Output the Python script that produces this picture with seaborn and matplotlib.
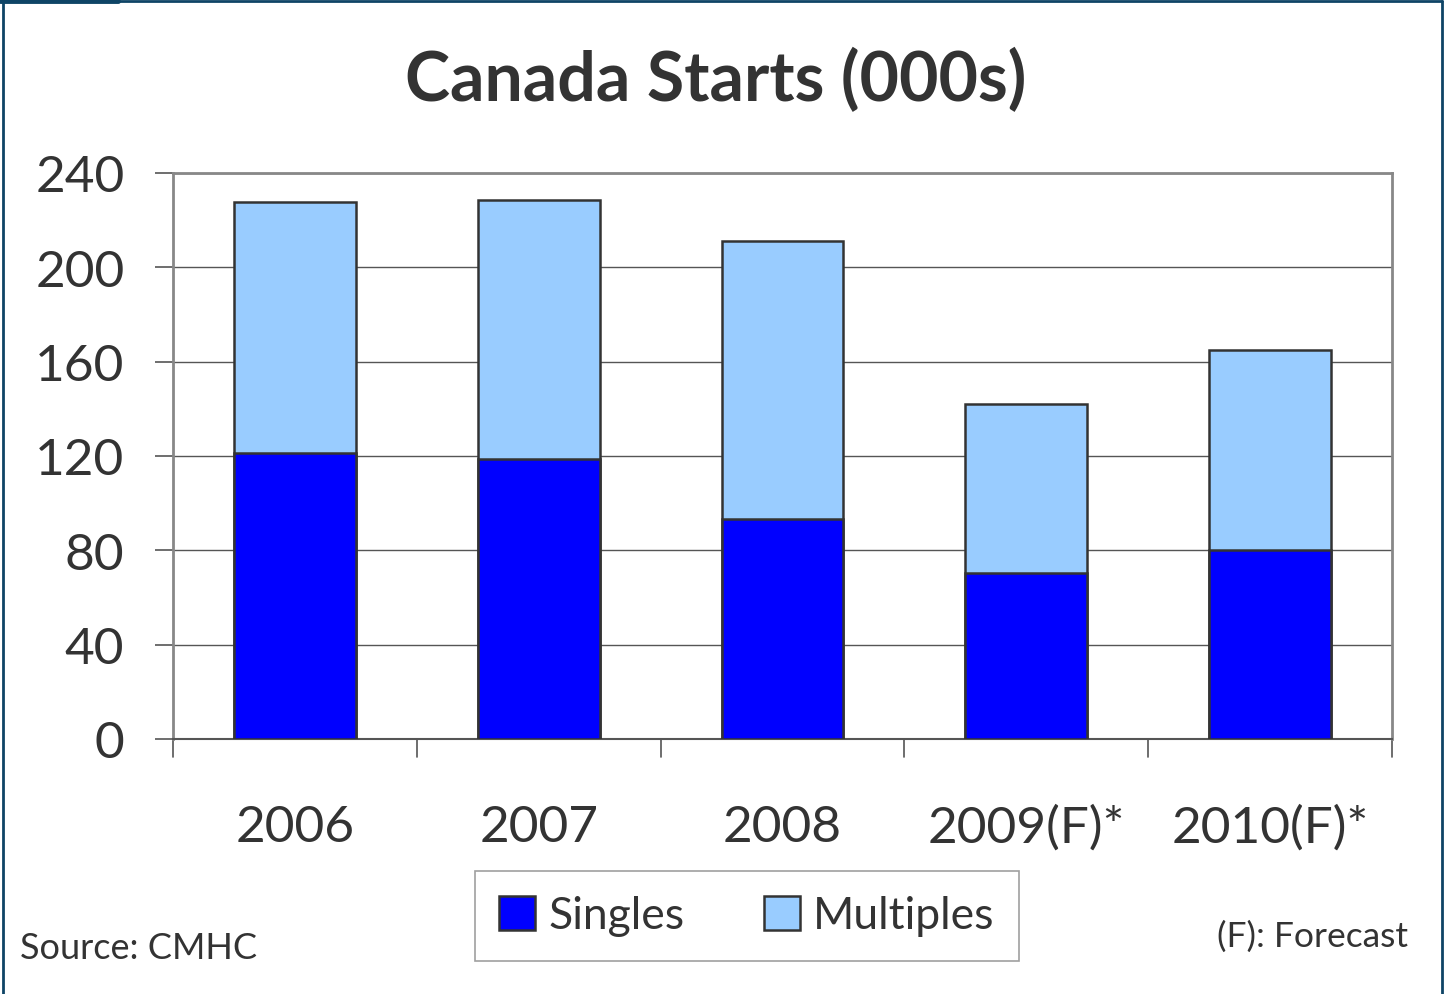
import matplotlib
matplotlib.use("Agg")
import matplotlib.pyplot as plt
from matplotlib.lines import Line2D
from matplotlib.patches import Patch
import seaborn as sns
import pandas as pd

years = ["2006", "2007", "2008", "2009(F)*", "2010(F)*"]
singles = [121.3, 118.7, 93.3, 70.4, 80.2]
multiples = [106.4, 109.9, 117.9, 71.7, 84.8]
yticks = [0, 40, 80, 120, 160, 200, 240]

totals = [s + m for s, m in zip(singles, multiples)]
df = pd.DataFrame({"year": years, "Singles": singles, "total": totals})

sns.set_theme(style="white")
plt.rcParams["font.family"] = ["Lato", "DejaVu Sans"]
txt = "#333333"

fig = plt.figure(figsize=(14.48, 9.95), dpi=100)
ax = fig.add_axes([173/1448, 1-740/995, (1392-173)/1448, (740-174)/995])

edge = "#333333"
sns.barplot(data=df, x="year", y="total", color="#99ccff", saturation=1, width=0.5,
            edgecolor=edge, linewidth=1.8, ax=ax, zorder=3)
sns.barplot(data=df, x="year", y="Singles", color="#0000ff", saturation=1, width=0.5,
            edgecolor=edge, linewidth=1.8, ax=ax, zorder=4)

ax.set_ylim(0, 240)
ax.set_xlim(-0.5, len(years) - 0.5)
ax.set_yticks(yticks)
ax.set_yticklabels([str(v) for v in yticks], fontsize=37, color=txt)
ax.set_xticks(range(len(years)))
ax.set_xticklabels(years, fontsize=37, color=txt)
ax.tick_params(axis="x", length=0, pad=47)
ax.tick_params(axis="y", length=13, width=1.2, color="#555555", pad=22, left=True)
ax.set_xlabel("")
ax.set_ylabel("")
for v in yticks[1:]:
    ax.axhline(v, color="#555555", linewidth=1.0, zorder=1)
for sp in ["top", "right", "left"]:
    ax.spines[sp].set_color("#888888")
    ax.spines[sp].set_linewidth(2.0)
ax.spines["bottom"].set_color("#555555")
ax.spines["bottom"].set_linewidth(1.5)
# category separator ticks below axis
for i in range(len(years) + 1):
    ax.plot([i - 0.5, i - 0.5], [0, -7.5], color="#555555", linewidth=1.2,
            clip_on=False, zorder=2)

fig.text(716/1448, 1-80/995, "Canada Starts (000s)", fontsize=49, fontweight="bold",
         color=txt, ha="center", va="center")

handles = [Patch(facecolor="#0000ff", edgecolor=edge, linewidth=1.8, label="Singles"),
           Patch(facecolor="#99ccff", edgecolor=edge, linewidth=1.8, label="Multiples")]
leg = fig.legend(handles=handles, loc="center", bbox_to_anchor=(747/1448, 1-917/995),
                 ncol=2, fontsize=32, frameon=True, fancybox=False, handlelength=0.8,
                 handleheight=0.8, handletextpad=0.3, columnspacing=1.8,
                 borderpad=0.55, labelcolor=txt)
leg.get_frame().set_edgecolor("#888888")
leg.get_frame().set_linewidth(1.2)

fig.text(20/1448, 1-949/995, "Source: CMHC", fontsize=26, color=txt, ha="left", va="center")
fig.text(1408/1448, 1-937/995, "(F): Forecast", fontsize=25.5, color=txt, ha="right", va="center")

bc = "#0e4466"
fig.add_artist(Line2D([3/1448, 3/1448], [0, 1-2/995], transform=fig.transFigure, color=bc, linewidth=2.0))
fig.add_artist(Line2D([3/1448, 1442/1448], [1-2/995, 1-2/995], transform=fig.transFigure, color=bc, linewidth=2.0))
fig.add_artist(Line2D([1442/1448, 1442/1448], [0, 1-2/995], transform=fig.transFigure, color=bc, linewidth=2.0))
fig.add_artist(Line2D([0, 118/1448], [1-1.5/995, 1-1.5/995], transform=fig.transFigure, color=bc, linewidth=3.5))

fig.savefig("out.png", dpi=100, facecolor="white")
